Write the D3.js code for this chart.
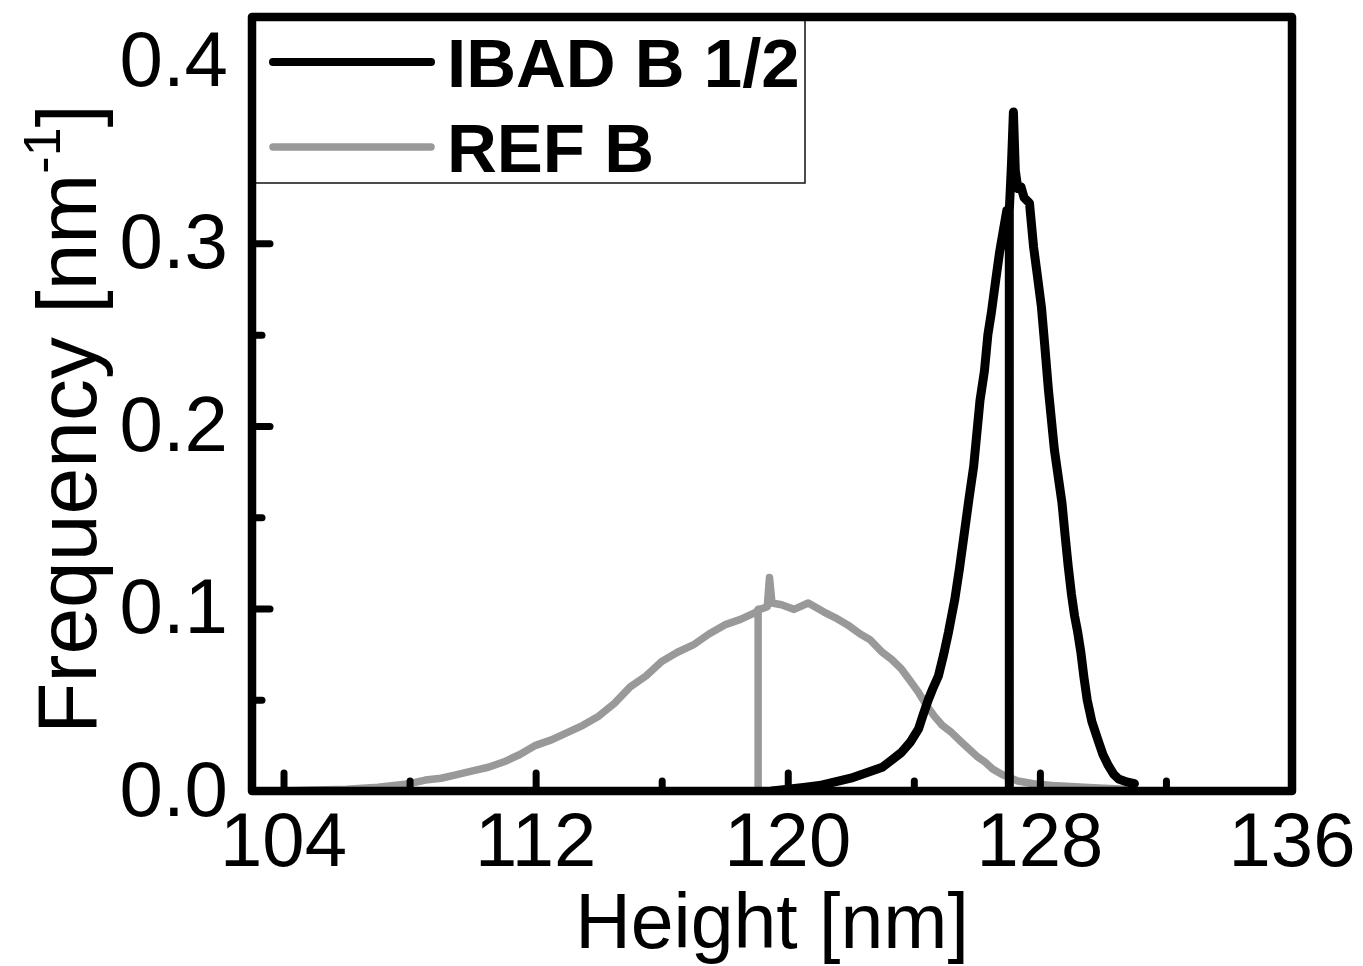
<!DOCTYPE html>
<html>
<head>
<meta charset="utf-8">
<script src="https://cdn.jsdelivr.net/npm/d3@7"></script>
<style>
  html, body { margin: 0; padding: 0; background: #fff; }
  svg { display: block; font-family: "Liberation Sans", Arial, sans-serif; }
</style>
</head>
<body>
<svg id="chart" width="1363" height="966"></svg>
<script>
/* Height histogram: IBAD B 1/2 vs REF B */
const xTicks = [104, 112, 120, 128, 136];
const xMinor = [108, 116, 124, 132];
const yTicks = [0.0, 0.1, 0.2, 0.3, 0.4];
const yMinor = [0.05, 0.15, 0.25, 0.35];

const seriesNames = ['IBAD B 1/2', 'REF B'];

// REF B (grey)
const refX = [103.5, 104, 105, 106, 107, 108, 108.5, 109, 109.5, 110, 110.5, 111, 111.5, 112, 112.5, 113, 113.5, 114, 114.5, 115, 115.5, 116, 116.5, 117, 117.5, 118, 118.5, 119.0,
  119.06, 119.06, 119.06, 119.2, 119.35, 119.42, 119.5, 119.8, 120.2, 120.65, 121.15, 121.5, 121.9, 122.3, 122.6, 123.0, 123.3, 123.6, 123.9, 124.15, 124.4, 124.65, 124.9, 125.2, 125.5, 125.75, 126.0, 126.25, 126.5, 126.8, 127.3, 127.8, 128.4, 129.4, 130.7];
const refY = [0.000, 0.000, 0.0005, 0.001, 0.002, 0.004, 0.006, 0.007, 0.009, 0.011, 0.013, 0.016, 0.020, 0.025, 0.028, 0.032, 0.036, 0.041, 0.048, 0.057, 0.063, 0.071, 0.076, 0.080, 0.086, 0.091, 0.094, 0.098,
  0.0995, 0.0, 0.0995, 0.100, 0.101, 0.117, 0.103, 0.102, 0.0995, 0.103, 0.098, 0.095, 0.091, 0.086, 0.083, 0.076, 0.072, 0.067, 0.060, 0.054, 0.047, 0.041, 0.036, 0.032, 0.027, 0.023, 0.019, 0.016, 0.012, 0.009, 0.0055, 0.004, 0.003, 0.002, 0.001];

// IBAD B 1/2 (black)
const ibadX = [119.5, 120.0, 120.5, 121.0, 121.5, 122.0, 122.5, 123.0, 123.3, 123.6, 123.9, 124.15, 124.3, 124.46, 124.6, 124.78, 124.95, 125.1, 125.3, 125.45, 125.6, 125.75, 125.9, 126.0, 126.1, 126.24, 126.35, 126.46, 126.6, 126.72, 126.84, 126.95,
  127.03, 127.03, 127.03, 127.1, 127.16, 127.22, 127.3, 127.4, 127.5, 127.67, 127.8, 127.9, 128.05, 128.15, 128.27, 128.46, 128.6, 128.7, 128.8, 128.9, 129.0, 129.1, 129.2, 129.3, 129.4, 129.5, 129.65, 129.86, 130.0, 130.17, 130.35, 130.5, 130.75, 131.0];
const ibadY = [0.000, 0.001, 0.002, 0.003, 0.005, 0.007, 0.010, 0.013, 0.017, 0.021, 0.027, 0.034, 0.042, 0.050, 0.056, 0.063, 0.075, 0.087, 0.105, 0.122, 0.141, 0.160, 0.178, 0.196, 0.214, 0.230, 0.250, 0.262, 0.280, 0.295, 0.307, 0.318,
  0.318, 0.0, 0.318, 0.344, 0.372, 0.340, 0.330, 0.331, 0.325, 0.322, 0.298, 0.285, 0.265, 0.245, 0.220, 0.187, 0.170, 0.158, 0.140, 0.123, 0.108, 0.096, 0.087, 0.076, 0.062, 0.050, 0.038, 0.027, 0.020, 0.014, 0.009, 0.0066, 0.005, 0.004];

const svg = d3.select('#chart');
const L = 252, R = 1292, T = 17, B = 791;
const x = d3.scaleLinear().domain([103, 136]).range([L, R]);
const y = d3.scaleLinear().domain([0, 0.424]).range([B, T]);

const line = d3.line().x(d => x(d[0])).y(d => y(d[1]));
const zip = (a, b) => a.map((v, i) => [v, b[i]]);

svg.append('defs').append('clipPath').attr('id', 'clip')
  .append('rect').attr('x', L).attr('y', T).attr('width', R - L).attr('height', B - T);

const plot = svg.append('g').attr('clip-path', 'url(#clip)');

// inward ticks (bottom + left only)
const xAx = svg.append('g').attr('transform', `translate(0,${B})`)
  .call(d3.axisBottom(x).tickValues(xTicks).tickSize(-18).tickFormat(''));
const xAxMinor = svg.append('g').attr('transform', `translate(0,${B})`)
  .call(d3.axisBottom(x).tickValues(xMinor).tickSize(-10).tickFormat(''));
const yAx = svg.append('g').attr('transform', `translate(${L},0)`)
  .call(d3.axisLeft(y).tickValues(yTicks).tickSize(-18).tickFormat(''));
const yAxMinor = svg.append('g').attr('transform', `translate(${L},0)`)
  .call(d3.axisLeft(y).tickValues(yMinor).tickSize(-10).tickFormat(''));
[xAx, xAxMinor, yAx, yAxMinor].forEach(a => {
  a.select('.domain').remove();
  a.selectAll('line').attr('stroke', '#000').attr('stroke-width', 7).attr('stroke-linecap', 'round');
});

// data
plot.append('path').datum(zip(refX, refY)).attr('d', line)
  .attr('fill', 'none').attr('stroke', '#999999').attr('stroke-width', 7.5)
  .attr('stroke-linejoin', 'round').attr('stroke-linecap', 'round');
plot.append('path').datum(zip(ibadX, ibadY)).attr('d', line)
  .attr('fill', 'none').attr('stroke', '#000').attr('stroke-width', 9)
  .attr('stroke-linejoin', 'round').attr('stroke-linecap', 'round');

// legend
const lg = svg.append('g');
lg.append('rect').attr('x', L).attr('y', T).attr('width', 553).attr('height', 166)
  .attr('fill', '#fff').attr('stroke', '#111').attr('stroke-width', 1.5);
const legendRows = [
  { name: seriesNames[0], color: '#000', w: 8, yy: 62 },
  { name: seriesNames[1], color: '#999999', w: 7.5, yy: 147 }
];
legendRows.forEach(r => {
  lg.append('line').attr('x1', 273).attr('x2', 431).attr('y1', r.yy).attr('y2', r.yy)
    .attr('stroke', r.color).attr('stroke-width', r.w).attr('stroke-linecap', 'round');
  lg.append('text').attr('x', 447).attr('y', r.yy + 25)
    .attr('font-size', 69).attr('font-weight', 'bold').text(r.name);
});

// frame
svg.append('rect').attr('x', L).attr('y', T).attr('width', R - L).attr('height', B - T)
  .attr('fill', 'none').attr('stroke', '#000').attr('stroke-width', 8.5).attr('stroke-linejoin', 'round');

// tick labels
svg.append('g').selectAll('text').data(xTicks).enter().append('text')
  .attr('x', d => x(d)).attr('y', 866).attr('text-anchor', 'middle')
  .attr('font-size', 76).text(d => d);
svg.append('g').selectAll('text').data(yTicks).enter().append('text')
  .attr('x', 228).attr('y', d => y(d) + 25).attr('text-anchor', 'end')
  .attr('font-size', 78).text(d => d.toFixed(1));

// axis titles
svg.append('text').attr('x', (L + R) / 2).attr('y', 948).attr('text-anchor', 'middle')
  .attr('font-size', 77).text('Height [nm]');

const yt = svg.append('text').attr('transform', `translate(96,${(T + B) / 2 + 15}) rotate(-90)`)
  .attr('text-anchor', 'middle').attr('font-size', 84);
yt.append('tspan').text('Frequency [nm');
yt.append('tspan').attr('font-size', 52).attr('dy', -36).text('-1');
yt.append('tspan').attr('dy', 36).text(']');
</script>
</body>
</html>
